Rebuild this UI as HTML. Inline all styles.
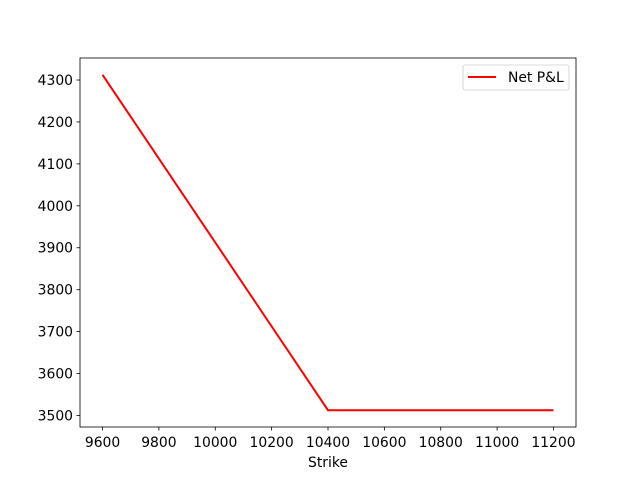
<!DOCTYPE html>
<html><head><meta charset="utf-8"><style>
body{margin:0;background:#fff;}
svg{display:block;font-family:"DejaVu Sans","Liberation Sans",sans-serif;}
</style></head><body>
<svg id="chart" width="640" height="480" viewBox="0 0 640 480" xmlns="http://www.w3.org/2000/svg">
<rect width="640" height="480" fill="#fff"/>
<g id="plot"></g>
</svg>
<script>
const strikes=[9600,10400,11200];
const netPnl=[4312.5,3512.5,3512.5];
const xTicks=[9600,9800,10000,10200,10400,10600,10800,11000,11200];
const yTicks=[3500,3600,3700,3800,3900,4000,4100,4200,4300];
const NS='http://www.w3.org/2000/svg';
const L=80,R=576,T=58,B=427;
const xmin=9520,xmax=11280;
const ymin=3472.5,ymax=4352.5;
const FS=13.9;
const xs=v=>L+(v-xmin)/(xmax-xmin)*(R-L);
const ys=v=>B-(v-ymin)/(ymax-ymin)*(B-T);
const g=document.getElementById('plot');
function mk(t,a){const e=document.createElementNS(NS,t);for(const k in a)e.setAttribute(k,a[k]);g.appendChild(e);return e;}
xTicks.forEach(v=>{
  const x=xs(v);
  const t=mk('line',{x1:x,x2:x,y1:B,y2:B+3.5,stroke:'#000','stroke-width':0.8});
  
  
  const s=mk('text',{x:x,y:B+20,'font-size':FS,'text-anchor':'middle',fill:'#000'});
  s.textContent=v;
  
  
});
yTicks.forEach(v=>{
  const y=ys(v);
  const t=mk('line',{x1:L-3.5,x2:L,y1:y,y2:y,stroke:'#000','stroke-width':0.8});
  
  
  const s=mk('text',{x:L-7,y:y+5,'font-size':FS,'text-anchor':'end',fill:'#000'});
  s.textContent=v;
  
  
});
const pts=strikes.map((s,i)=>xs(s)+','+ys(netPnl[i])).join(' ');
const line=mk('polyline',{points:pts,fill:'none',stroke:'#ff0000','stroke-width':2});


const frame=mk('rect',{x:L,y:T,width:R-L,height:B-T,fill:'none',stroke:'#000','stroke-width':0.8});


const xl=mk('text',{x:(L+R)/2,y:467,'font-size':FS,'text-anchor':'middle',fill:'#000'});
xl.textContent='Strike';


const lb=mk('rect',{x:463,y:65,width:106,height:25,rx:2,fill:'#fff',stroke:'#ccc','stroke-width':0.8});


const ll=mk('line',{x1:468,x2:496,y1:77,y2:77,stroke:'#ff0000','stroke-width':2});


const lt=mk('text',{x:508,y:82,'font-size':FS,fill:'#000'});
lt.textContent='Net P&L';


</script>
</body></html>
